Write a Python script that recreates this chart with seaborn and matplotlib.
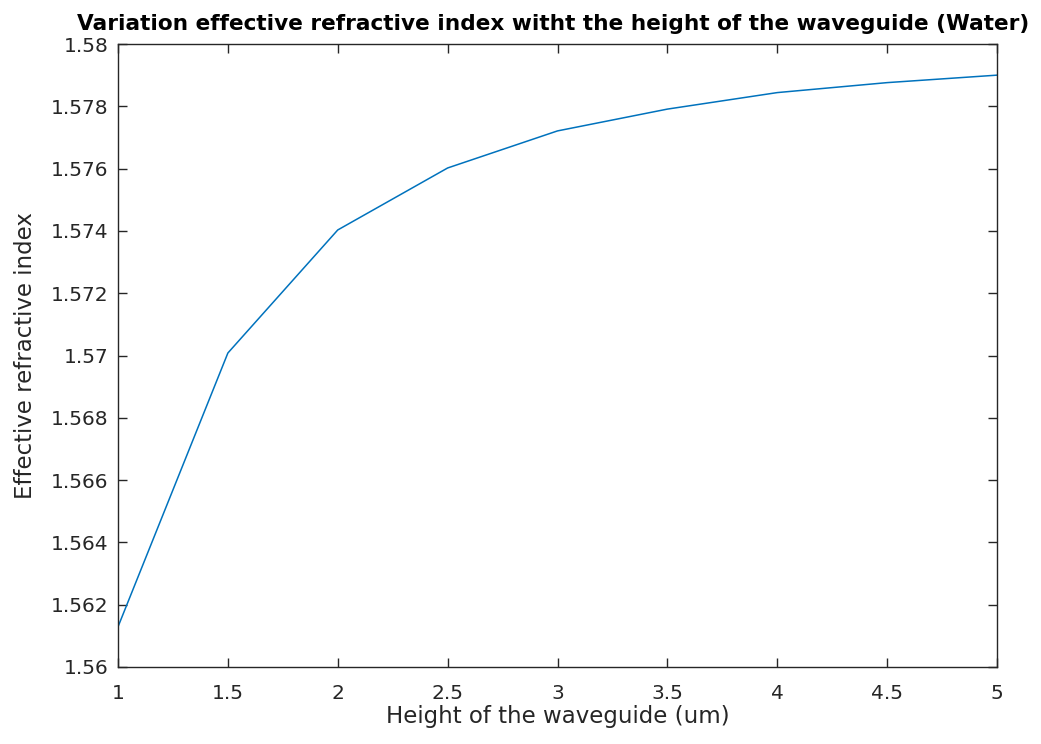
import matplotlib
matplotlib.use("Agg")
import matplotlib.pyplot as plt
import seaborn as sns
import pandas as pd

heights = [1.0, 1.5, 2.0, 2.5, 3.0, 3.5, 4.0, 4.5, 5.0]
neff = [1.56129, 1.57008, 1.57403, 1.57602, 1.57721, 1.57791, 1.57844, 1.57876, 1.57900]
xticks = [1, 1.5, 2, 2.5, 3, 3.5, 4, 4.5, 5]
xticklabels = ["1", "1.5", "2", "2.5", "3", "3.5", "4", "4.5", "5"]
yticks = [1.56, 1.562, 1.564, 1.566, 1.568, 1.57, 1.572, 1.574, 1.576, 1.578, 1.58]
yticklabels = ["1.56", "1.562", "1.564", "1.566", "1.568", "1.57", "1.572", "1.574", "1.576", "1.578", "1.58"]

sns.set_theme(style="white")
plt.rcParams['font.family'] = ['DejaVu Sans']

df = pd.DataFrame({"h": heights, "n": neff})
fig = plt.figure(figsize=(10.41, 7.44), dpi=100)
ax = fig.add_axes([118/1041, 1 - 667/744, (997-118)/1041, (667-44)/744])
sns.lineplot(data=df, x="h", y="n", ax=ax, color="#0072BD", linewidth=1.1)

ax.set_xlim(1, 5)
ax.set_ylim(1.56, 1.58)
ax.set_xticks(xticks)
ax.set_xticklabels(xticklabels)
ax.set_yticks(yticks)
ax.set_yticklabels(yticklabels)
c = "#262626"
for s in ax.spines.values():
    s.set_visible(True)
    s.set_color(c)
    s.set_linewidth(1.0)
ax.tick_params(direction="in", length=6.5, width=1.0, colors=c, labelsize=14.5,
               top=True, right=True, bottom=True, left=True)
ax.tick_params(axis="x", pad=12)
ax.tick_params(axis="y", pad=7)
ax.set_xlabel("Height of the waveguide (um)", fontsize=16.5, color=c, labelpad=2)
ax.set_ylabel("Effective refractive index", fontsize=16.5, color=c, labelpad=10)
t = ax.set_title("Variation effective refractive index witht the height of the waveguide (Water)",
                 fontsize=15.55, fontweight="bold", color="black", pad=10)
t.set_x(0.495)
fig.savefig("out.png", dpi=100)
